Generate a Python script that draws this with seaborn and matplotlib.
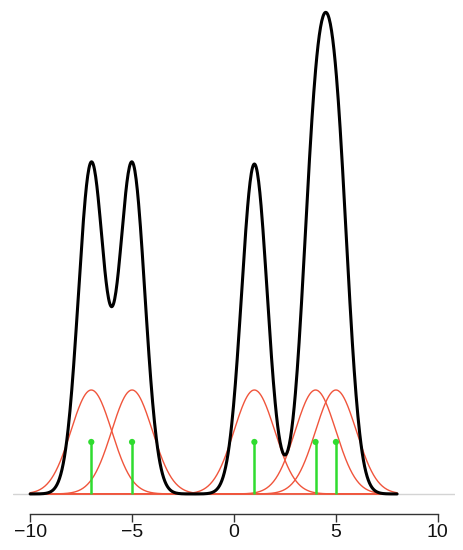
import numpy as np
import pandas as pd
import seaborn as sns
import matplotlib.pyplot as plt

sns.set_style('white')
plt.rcParams['font.family'] = ['Liberation Sans', 'DejaVu Sans']

# observations
points = [-7, -5, 1, 4, 5]
# bandwidths: red single kernels, black estimate
kernel_bw = 1.0
kde_bw = 0.63
grid_lim = (-10, 8)
xticks = [-10, -5, 0, 5, 10]
xtick_labels = ['\u221210', '\u22125', '0', '5', '10']

n = len(points)
grid = np.linspace(grid_lim[0], grid_lim[1], 500)

fig = plt.figure(figsize=(4.63, 5.5), dpi=100)
ax = fig.add_axes([13 / 463, 36 / 550, 442 / 463, 514 / 550])

ax.axhline(0, color='#d4d4d4', lw=1.0, zorder=0)

# individual kernels (scaled)
for p in points:
    dens = np.exp(-0.5 * ((grid - p) / kernel_bw) ** 2) / (kernel_bw * np.sqrt(2 * np.pi)) / (2 * n)
    sns.lineplot(x=grid, y=dens, color='#f0553c', lw=1.0, ax=ax, zorder=2)

# kernel density estimate
std = np.std(points, ddof=1)
adj = kde_bw / (n ** (-1 / 5) * std)
sns.kdeplot(x=points, bw_adjust=adj, cut=20, clip=grid_lim, gridsize=600,
            color='black', lw=2.2, ax=ax, zorder=3)

# stems
stem_h = 1 / (kernel_bw * np.sqrt(2 * np.pi)) / (4 * n)
ax.vlines(points, 0, stem_h, color='#2fdc2f', lw=1.8, zorder=4)
sns.scatterplot(x=points, y=[stem_h] * n, color='#2fdc2f', s=20,
                edgecolor='none', ax=ax, zorder=5)

ax.set_xlim(-10.84, 10.84)
ax.set_ylim(-0.0077, 0.1896)
ax.set_xticks(xticks)
ax.set_xticklabels(xtick_labels, fontsize=14, color='#111111')
ax.set_yticks([])
ax.set_xlabel('')
ax.set_ylabel('')
for s in ['top', 'right', 'left']:
    ax.spines[s].set_visible(False)
ax.spines['bottom'].set_bounds(-10, 10)
ax.spines['bottom'].set_color('#333333')
ax.spines['bottom'].set_linewidth(1.0)
ax.tick_params(axis='x', direction='out', length=6, width=1.0,
               color='#333333', pad=1, bottom=True)

fig.savefig('out.png', dpi=100)
